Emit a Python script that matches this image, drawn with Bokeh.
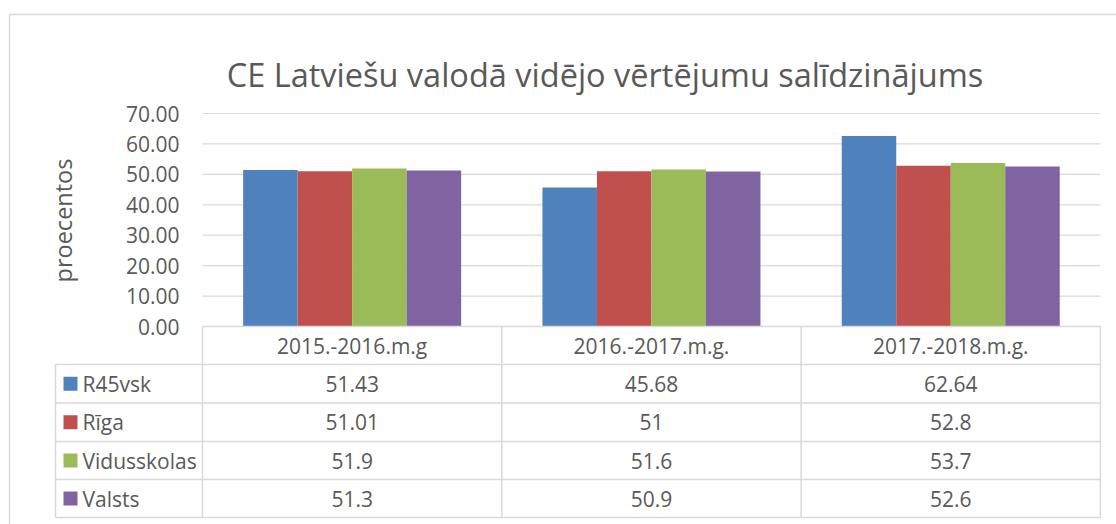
import math
from bokeh.plotting import figure
from bokeh.models import Range1d, ColumnDataSource
from bokeh.core.properties import value
from bokeh.embed import file_html
from bokeh.resources import INLINE

# ---------------- data ----------------
title_text = "CE Latviešu valodā vidējo vērtējumu salīdzinājums"
y_label = "proecentos"
categories = ["2015.-2016.m.g", "2016.-2017.m.g.", "2017.-2018.m.g."]
series_names = ["R45vsk", "Rīga", "Vidusskolas", "Valsts"]
r45vsk = [51.43, 45.68, 62.64]
riga = [51.01, 51, 52.8]
vidusskolas = [51.9, 51.6, 53.7]
valsts = [51.3, 50.9, 52.6]
y_ticks = [0, 10, 20, 30, 40, 50, 60, 70]
colors = ["#4F81BD", "#C0504D", "#9BBB59", "#8064A2"]

series_values = [r45vsk, riga, vidusskolas, valsts]

# ---------------- layout ----------------
W, H = 1116, 524
PX_X0 = 202.0          # screen x of category boundary 0
PX_UNIT = 299.3        # pixels per category
PX_Y0 = 326.0          # screen y (from top) of value 0
PX_PER_VAL = 213.0 / 70.0

def sx(px):
    return (px - PX_X0) / PX_UNIT

def sy(py):
    return (PX_Y0 - py) / PX_PER_VAL

FONT = value("Open Sans")
TXT = "#595959"
LINE = "#D9D9D9"

p = figure(width=W, height=H, output_backend="svg", toolbar_location=None,
           x_range=Range1d(sx(0), sx(W)), y_range=Range1d(sy(H), sy(0)),
           min_border=0, outline_line_color=None)
p.axis.visible = False
p.grid.visible = False
p.background_fill_color = "white"
p.border_fill_color = "white"

# outer chart border (light grey, extends beyond the window on the right/bottom)
p.segment(x0=[sx(9), sx(9)], y0=[sy(14), sy(14)], x1=[sx(W + 10), sx(9)], y1=[sy(14), sy(H + 10)],
          line_color=LINE, line_width=1.5)

# gridlines
grid_vals = [t for t in y_ticks if t > 0]
p.segment(x0=[0] * len(grid_vals), x1=[len(categories)] * len(grid_vals),
          y0=grid_vals, y1=grid_vals, line_color=LINE, line_width=1.2)

# y tick labels
p.text(x=[sx(179)] * len(y_ticks), y=y_ticks, text=[f"{t:.2f}" for t in y_ticks],
       text_font=FONT, text_font_size="21px", text_color=TXT,
       text_align="right", text_baseline="middle")

# y axis label
p.text(x=[sx(62)], y=[sy(220)], text=[y_label], angle=math.pi / 2,
       text_font=FONT, text_font_size="23.5px", text_color=TXT,
       text_align="center", text_baseline="middle")

# title
p.text(x=[sx(604.5)], y=[sy(74)], text=[title_text],
       text_font=FONT, text_font_size="32.5px", text_color=TXT,
       text_align="center", text_baseline="alphabetic")

# bars
n = len(series_names)
bw = 54.5 / PX_UNIT
for k, (name, vals, col) in enumerate(zip(series_names, series_values, colors)):
    off = (k - (n - 1) / 2) * bw
    src = ColumnDataSource(dict(x=[i + 0.5 + off for i in range(len(categories))], top=vals))
    p.vbar(x="x", top="top", bottom=0, width=bw, source=src,
           fill_color=col, line_color=None)

# data table
row_px = [326, 364, 402.5, 441, 479, 517]
row_y = [sy(v) for v in row_px]
left_x = sx(55)
nc = len(categories)
# horizontal lines
p.segment(x0=[0], x1=[nc], y0=[row_y[0]], y1=[row_y[0]], line_color=LINE, line_width=1.5)
p.segment(x0=[left_x] * 5, x1=[nc] * 5, y0=row_y[1:], y1=row_y[1:], line_color=LINE, line_width=1.5)
# vertical lines
p.segment(x0=[left_x], x1=[left_x], y0=[row_y[1]], y1=[row_y[-1]], line_color=LINE, line_width=1.5)
p.segment(x0=list(range(nc + 1)), x1=list(range(nc + 1)), y0=[row_y[0]] * (nc + 1),
          y1=[row_y[-1]] * (nc + 1), line_color=LINE, line_width=1.5)

# header
p.text(x=[i + 0.5 for i in range(nc)], y=[(row_y[0] + row_y[1]) / 2] * nc, text=categories,
       text_font=FONT, text_font_size="21px", text_color=TXT,
       text_align="center", text_baseline="middle")

# rows
for k, (name, vals, col) in enumerate(zip(series_names, series_values, colors)):
    yc = (row_y[k + 1] + row_y[k + 2]) / 2
    p.scatter(x=[sx(70)], y=[yc], marker="square", size=14, fill_color=col, line_color=None)
    p.text(x=[sx(82)], y=[yc], text=[name], text_font=FONT, text_font_size="21px",
           text_color=TXT, text_align="left", text_baseline="middle")
    p.text(x=[i + 0.5 for i in range(nc)], y=[yc] * nc, text=[f"{v:g}" for v in vals],
           text_font=FONT, text_font_size="21px", text_color=TXT,
           text_align="center", text_baseline="middle")

open("out.html", "w").write(file_html(p, INLINE))
